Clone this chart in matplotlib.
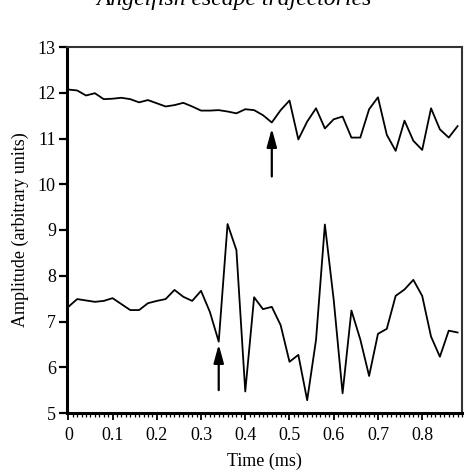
import matplotlib
matplotlib.use("Agg")
import matplotlib.pyplot as plt
import numpy as np

# Time axis (ms), sampled every 0.02 ms
time_ms = [0.00, 0.02, 0.04, 0.06, 0.08, 0.10, 0.12, 0.14, 0.16, 0.18,
           0.20, 0.22, 0.24, 0.26, 0.28, 0.30, 0.32, 0.34, 0.36, 0.38,
           0.40, 0.42, 0.44, 0.46, 0.48, 0.50, 0.52, 0.54, 0.56, 0.58,
           0.60, 0.62, 0.64, 0.66, 0.68, 0.70, 0.72, 0.74, 0.76, 0.78,
           0.80, 0.82, 0.84, 0.86, 0.88]

upper_trace = [12.07, 12.05, 11.94, 11.99, 11.86, 11.87, 11.89, 11.86, 11.79, 11.84,
               11.77, 11.70, 11.73, 11.78, 11.70, 11.61, 11.61, 11.62, 11.59, 11.55,
               11.64, 11.62, 11.51, 11.35, 11.62, 11.83, 10.98, 11.37, 11.66, 11.22,
               11.42, 11.48, 11.02, 11.02, 11.64, 11.90, 11.08, 10.73, 11.39, 10.95,
               10.75, 11.66, 11.20, 11.02, 11.27]

lower_trace = [7.32, 7.49, 7.46, 7.43, 7.45, 7.51, 7.38, 7.25, 7.25, 7.40,
               7.45, 7.49, 7.69, 7.54, 7.45, 7.67, 7.21, 6.56, 9.13, 8.56,
               5.47, 7.53, 7.27, 7.32, 6.92, 6.12, 6.27, 5.28, 6.60, 9.12,
               7.47, 5.43, 7.24, 6.61, 5.81, 6.73, 6.84, 7.56, 7.70, 7.91,
               7.56, 6.67, 6.23, 6.80, 6.76]

# Arrows: (x, y_start, y_tip)
arrows = [(0.46, 10.17, 11.22), (0.34, 5.50, 6.50)]

x_ticks = [0, 0.1, 0.2, 0.3, 0.4, 0.5, 0.6, 0.7, 0.8]
x_tick_labels = ["0", "0.1", "0.2", "0.3", "0.4", "0.5", "0.6", "0.7", "0.8"]
y_ticks = [5, 6, 7, 8, 9, 10, 11, 12, 13]

plt.rcParams['font.family'] = ['Liberation Serif', 'DejaVu Serif']

fig = plt.figure(figsize=(4.70, 4.72), dpi=100)
ax = fig.add_axes([67/470, 1 - 413/472, (462-67)/470, (413-47)/472])

ax.plot(time_ms, upper_trace, color='black', lw=1.3)
ax.plot(time_ms, lower_trace, color='black', lw=1.3)

for (xa, y0, y1) in arrows:
    ax.annotate('', xy=(xa, y1), xytext=(xa, y0),
                arrowprops=dict(arrowstyle='-|>,head_length=1.1,head_width=0.3',
                                color='black', lw=1.6, shrinkA=0, shrinkB=0))

ax.set_xlim(-0.003, 0.89)
ax.set_ylim(5, 13)
ax.set_xticks(x_ticks)
ax.set_xticklabels(x_tick_labels)
ax.set_xticks(np.arange(0, 0.895, 0.01), minor=True)
ax.set_yticks(y_ticks)

ax.tick_params(axis='x', which='major', direction='out', length=5, width=1.3, labelsize=13, pad=5)
ax.tick_params(axis='x', which='minor', direction='out', length=3, width=0.9)
ax.tick_params(axis='y', which='major', direction='out', length=6, width=1.6, labelsize=13, pad=2)

for s in ['left', 'bottom']:
    ax.spines[s].set_linewidth(2.2)
for s in ['top', 'right']:
    ax.spines[s].set_linewidth(1.5)
    ax.spines[s].set_color('#333333')

ax.set_xlabel('Time (ms)', fontsize=13, labelpad=6)
ax.set_ylabel('Amplitude (arbitrary units)', fontsize=13, labelpad=6)

fig.text(234/470, 1 - 5/472, 'Angelfish escape trajectories', ha='center', va='baseline',
         fontsize=17, style='italic')

fig.savefig('out.png', dpi=100)
